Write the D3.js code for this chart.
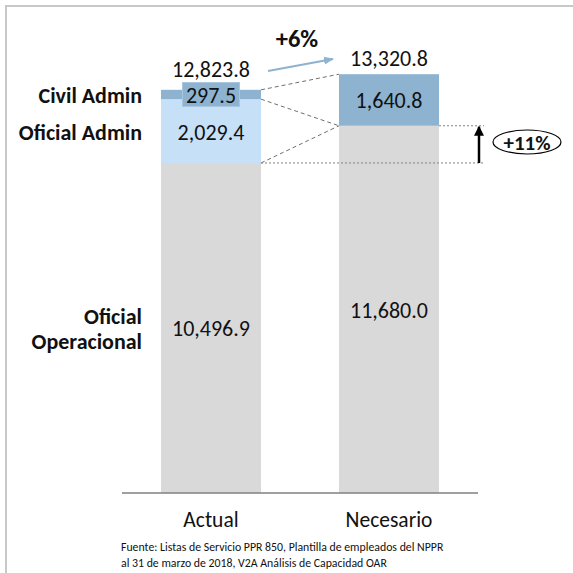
<!DOCTYPE html>
<html>
<head>
<meta charset="utf-8">
<script src="https://cdn.jsdelivr.net/npm/d3@7"></script>
<style>
  body { margin: 0; background: #fff; }
  svg { display: block; font-family: Carlito, "Open Sans", sans-serif; }
</style>
</head>
<body>
<svg id="chart" width="573" height="573"></svg>
<script>
// chart data
var categories = ["Actual", "Necesario"];
var operacional = [10496.9, 11680.0];
var oficialAdmin = [2029.4, 0];
var civilAdmin = [297.5, 1640.8];
var totals = [12823.8, 13320.8];
var growthTotal = "+6%";
var growthOper = "+11%";
var sourceLines = [
  "Fuente: Listas de Servicio PPR 850, Plantilla de empleados del NPPR",
  "al 31 de marzo de 2018, V2A Análisis de Capacidad OAR"
];

var svg = d3.select("#chart");
var fmt = d3.format(",.1f");

// frame
svg.append("path")
  .attr("d", "M6,573 V6 H573")
  .attr("fill", "none").attr("stroke", "#c8c8c8").attr("stroke-width", 2);

var x = d3.scaleBand().domain(categories).range([122, 478])
  .paddingInner(0.438).paddingOuter(0.219);
var y = d3.scaleLinear().domain([0, 14000]).range([493, 493 - 14000 * 0.03144]);
var bw = x.bandwidth();

// stacks
var stackData = categories.map(function(c, i) {
  return {cat: c, oper: operacional[i], ofi: oficialAdmin[i], civ: civilAdmin[i]};
});
var series = d3.stack().keys(["oper", "ofi", "civ"])(stackData);
var colors = {oper: "#d9d9d9", ofi: "#c6e0f8", civ: "#8db3d0"};

series.forEach(function(s) {
  svg.append("g").selectAll("rect")
    .data(s)
    .enter().append("rect")
    .attr("x", function(d) { return x(d.data.cat); })
    .attr("y", function(d) { return y(d[1]); })
    .attr("width", bw)
    .attr("height", function(d) { return y(d[0]) - y(d[1]); })
    .attr("fill", colors[s.key]);
});

// axis line
svg.append("line")
  .attr("x1", 122).attr("x2", 478).attr("y1", y(0)).attr("y2", y(0))
  .attr("stroke", "#808080").attr("stroke-width", 1.5);

// category labels
svg.selectAll(".cat")
  .data(categories).enter().append("text")
  .attr("x", function(d) { return x(d) + bw / 2; })
  .attr("y", 527)
  .attr("text-anchor", "middle")
  .attr("font-size", 21.5).attr("fill", "#111")
  .text(function(d) { return d; });

var cx0 = x("Actual") + bw / 2, cx1 = x("Necesario") + bw / 2;

// value labels
function label(xp, yp, t) {
  return svg.append("text").attr("x", xp).attr("y", yp)
    .attr("text-anchor", "middle").attr("dominant-baseline", "central")
    .attr("font-size", 22).attr("fill", "#111").text(t);
}
// civil admin box on Actual
var civMid = y(operacional[0] + oficialAdmin[0] + civilAdmin[0] / 2);
svg.append("rect")
  .attr("x", cx0 - 28.5).attr("y", civMid - 12).attr("width", 57).attr("height", 24)
  .attr("fill", colors.civ).attr("stroke", "#a9c6df").attr("stroke-width", 1);
label(cx0, civMid + 1, fmt(civilAdmin[0]));
label(cx0, y(operacional[0] + oficialAdmin[0] / 2) + 1, fmt(oficialAdmin[0]));
label(cx0, y(operacional[0] / 2) + 1, fmt(operacional[0]));
label(cx1, y(operacional[1] + civilAdmin[1] / 2) + 1, fmt(civilAdmin[1]));
label(cx1, y(operacional[1] / 2) + 1, fmt(operacional[1]));
label(cx0, y(totals[0]) - 20, fmt(totals[0]));
label(cx1, y(totals[1]) - 16, fmt(totals[1]));

// left series labels
var leftLabels = [
  {t: ["Civil Admin"], v: operacional[0] + oficialAdmin[0] + civilAdmin[0] / 2},
  {t: ["Oficial Admin"], v: operacional[0] + oficialAdmin[0] / 2},
  {t: ["Oficial", "Operacional"], v: operacional[0] / 2}
];
leftLabels.forEach(function(l) {
  var n = l.t.length;
  l.t.forEach(function(line, k) {
    svg.append("text")
      .attr("x", 142).attr("y", y(l.v) + (k - (n - 1) / 2) * 25 + 1)
      .attr("text-anchor", "end").attr("dominant-baseline", "central")
      .attr("font-size", 22).attr("font-weight", "bold").attr("fill", "#111")
      .text(line);
  });
});

// connector dashed lines
var xr0 = x("Actual") + bw, xl1 = x("Necesario");
var dashed = [
  [y(totals[0]), y(totals[1])],
  [y(operacional[0] + oficialAdmin[0]), y(operacional[1])],
  [y(operacional[0]), y(operacional[1])]
];
svg.append("g").selectAll("line").data(dashed).enter().append("line")
  .attr("x1", xr0).attr("x2", xl1)
  .attr("y1", function(d) { return d[0]; }).attr("y2", function(d) { return d[1]; })
  .attr("stroke", "#707070").attr("stroke-width", 1).attr("stroke-dasharray", "4,3");

// dotted guides
var xg = 484;
svg.append("line").attr("x1", xl1 + bw).attr("x2", xg)
  .attr("y1", y(operacional[1])).attr("y2", y(operacional[1]))
  .attr("stroke", "#808080").attr("stroke-dasharray", "2,2");
svg.append("line").attr("x1", xr0).attr("x2", xg)
  .attr("y1", y(operacional[0])).attr("y2", y(operacional[0]))
  .attr("stroke", "#808080").attr("stroke-dasharray", "2,2");

// black up arrow
var defs = svg.append("defs");
defs.append("marker").attr("id", "blk").attr("viewBox", "0 0 10 10")
  .attr("refX", 9).attr("refY", 5).attr("markerWidth", 4).attr("markerHeight", 4)
  .attr("orient", "auto").attr("markerUnits", "strokeWidth")
  .append("path").attr("d", "M0,0 L10,5 L0,10 z").attr("fill", "#000");
svg.append("line").attr("x1", 479).attr("x2", 479)
  .attr("y1", y(operacional[0])).attr("y2", y(operacional[1]) + 1)
  .attr("stroke", "#000").attr("stroke-width", 2.5).attr("marker-end", "url(#blk)");

// +11% ellipse
svg.append("ellipse").attr("cx", 527).attr("cy", 142).attr("rx", 34).attr("ry", 12)
  .attr("fill", "#fff").attr("stroke", "#000").attr("stroke-width", 1.2);
svg.append("text").attr("x", 527).attr("y", 143)
  .attr("text-anchor", "middle").attr("dominant-baseline", "central")
  .attr("font-size", 21).attr("font-weight", "bold").attr("fill", "#111")
  .text(growthOper);

// +6% arrow
defs.append("marker").attr("id", "blu").attr("viewBox", "0 0 10 10")
  .attr("refX", 9).attr("refY", 5).attr("markerWidth", 5).attr("markerHeight", 5)
  .attr("orient", "auto").attr("markerUnits", "strokeWidth")
  .append("path").attr("d", "M0,1 L10,5 L0,9 z").attr("fill", "#8db3d0");
svg.append("line").attr("x1", 268).attr("y1", 71).attr("x2", 333).attr("y2", 59)
  .attr("stroke", "#8db3d0").attr("stroke-width", 2).attr("marker-end", "url(#blu)");
svg.append("text").attr("x", 297).attr("y", 39)
  .attr("text-anchor", "middle").attr("dominant-baseline", "central")
  .attr("font-size", 24.5).attr("font-weight", "bold").attr("fill", "#111")
  .text(growthTotal);

// source
svg.append("g").selectAll("text").data(sourceLines).enter().append("text")
  .attr("x", 121).attr("y", function(d, i) { return 551 + i * 16; })
  .attr("font-size", 11.8).attr("fill", "#111")
  .text(function(d) { return d; });
</script>
</body>
</html>
